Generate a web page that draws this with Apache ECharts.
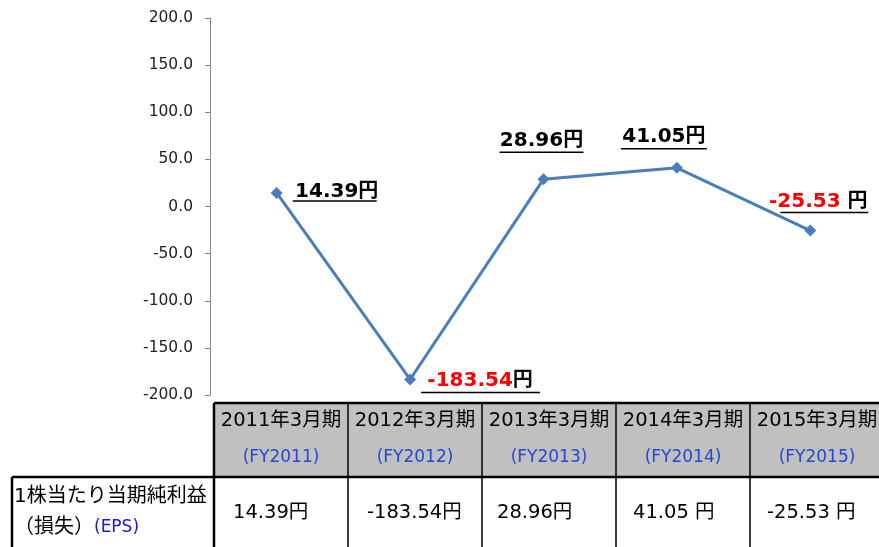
<!DOCTYPE html>
<html><head><meta charset="utf-8">
<script src="https://cdn.jsdelivr.net/npm/echarts@6/dist/echarts.min.js"></script>
<style>html,body{margin:0;padding:0;background:#fff}#c{width:879px;height:547px}</style>
</head><body><div id="c"></div>
<script>
// ---- data ----
const categories = ['2011年3月期', '2012年3月期', '2013年3月期', '2014年3月期', '2015年3月期'];
const fyLabels = ['(FY2011)', '(FY2012)', '(FY2013)', '(FY2014)', '(FY2015)'];
const epsValues = [14.39, -183.54, 28.96, 41.05, -25.53];
const tableValues = ['14.39円', '-183.54円', '28.96円', '41.05 円', '-25.53 円'];
const rowTitle1 = '1株当たり当期純利益';
const rowTitle2 = '（損失）';
const rowTitle3 = '(EPS)';
const unitText = '円';
const yMin = -200, yMax = 200, yStep = 50;

// ---- label layout (style, not data): offset of label centre from point, underline extents ----
const labelLayout = [
  { dx: 60, dy: -1, sep: '', ul: [16, 100, 8] },
  { dx: 70, dy: 1, sep: '', ul: [11, 130, 13] },
  { dx: -2, dy: -38, sep: '', ul: [-44, 40, -27] },
  { dx: -13, dy: -31, sep: '', ul: [-56, 30, -19] },
  { dx: 8, dy: -29, sep: ' ', ul: [-30, 58, -18] }
];
const cellTextShift = [19, 19, 15, 17, 17];

const FONT = '"DejaVu Sans", "Noto Sans CJK JP", sans-serif';
const chart = echarts.init(document.getElementById('c'), null, { renderer: 'canvas' });

const seriesData = epsValues.map((v, i) => {
  const L = labelLayout[i];
  const txt = v.toFixed(2);
  const neg = v < 0;
  return {
    value: v,
    label: {
      show: true,
      position: 'inside',
      offset: [L.dx, L.dy],
      align: 'center',
      verticalAlign: 'middle',
      formatter: (neg ? '{r|' + txt + '}' : '{k|' + txt + '}') + '{k|' + L.sep + unitText + '}',
      rich: {
        r: { color: '#FF0000', fontWeight: 'bold', fontSize: 20, fontFamily: FONT },
        k: { color: '#000000', fontWeight: 'bold', fontSize: 20, fontFamily: FONT }
      }
    }
  };
});

chart.setOption({
  animation: false,
  backgroundColor: '#ffffff',
  grid: { left: 210, right: 2, top: 18, bottom: 152, containLabel: false },
  xAxis: {
    type: 'category', data: categories, boundaryGap: true,
    axisLine: { show: false }, axisTick: { show: false }, axisLabel: { show: false }, splitLine: { show: false }
  },
  yAxis: {
    type: 'value', min: yMin, max: yMax, interval: yStep,
    axisLine: { show: true, lineStyle: { color: '#868686', width: 1 } },
    axisTick: { show: true, length: 5, lineStyle: { color: '#868686' } },
    axisLabel: { formatter: v => v.toFixed(1), fontSize: 15.5, color: '#222', fontFamily: FONT, margin: 17 },
    splitLine: { show: false }
  },
  series: [{
    type: 'line', data: seriesData,
    lineStyle: { color: '#4A7EBB', width: 3 },
    itemStyle: { color: '#4A7EBB' },
    symbol: 'diamond', symbolSize: 12,
    z: 3
  }]
});

// ---- graphics: underlines + data table ----
const g = [];
epsValues.forEach((v, i) => {
  const p = chart.convertToPixel({ seriesIndex: 0 }, [i, v]);
  const u = labelLayout[i].ul;
  g.push({ type: 'line', shape: { x1: p[0] + u[0], y1: p[1] + u[2], x2: p[0] + u[1], y2: p[1] + u[2] },
           style: { stroke: '#000', lineWidth: 1.5 }, z: 10 });
});

const tLeft = 214, colW = 134, hTop = 403, hBot = 477, tBot = 560, labL = 12;
g.push({ type: 'rect', shape: { x: tLeft, y: hTop, width: 900 - tLeft, height: hBot - hTop }, style: { fill: '#C0C0C0' }, z: 1 });
categories.forEach((c, i) => {
  const cx = tLeft + colW * (i + 0.5);
  g.push({ type: 'text', style: { text: c, x: cx, y: 421, align: 'center', verticalAlign: 'middle', font: '19.5px ' + FONT, fill: '#000' }, z: 5 });
  g.push({ type: 'text', style: { text: fyLabels[i], x: cx, y: 458, align: 'center', verticalAlign: 'middle', font: '17px ' + FONT, fill: '#2447D6' }, z: 5 });
  g.push({ type: 'text', style: { text: tableValues[i], x: tLeft + colW * i + cellTextShift[i], y: 513, align: 'left', verticalAlign: 'middle', font: '19.5px ' + FONT, fill: '#000' }, z: 5 });
  if (i > 0) {
    const x = tLeft + colW * i;
    g.push({ type: 'line', shape: { x1: x, y1: hTop, x2: x, y2: tBot }, style: { stroke: '#000', lineWidth: 1.5 }, z: 6 });
  }
});
g.push({ type: 'line', shape: { x1: tLeft, y1: hTop, x2: 900, y2: hTop }, style: { stroke: '#000', lineWidth: 2.5 }, z: 7 });
g.push({ type: 'line', shape: { x1: tLeft, y1: hTop, x2: tLeft, y2: tBot }, style: { stroke: '#000', lineWidth: 2.5 }, z: 7 });
g.push({ type: 'line', shape: { x1: labL, y1: hBot, x2: 900, y2: hBot }, style: { stroke: '#000', lineWidth: 2.5 }, z: 7 });
g.push({ type: 'line', shape: { x1: labL, y1: hBot, x2: labL, y2: tBot }, style: { stroke: '#000', lineWidth: 2.5 }, z: 7 });
g.push({ type: 'text', style: { text: rowTitle1, x: 14, y: 497, align: 'left', verticalAlign: 'middle', font: '20px ' + FONT, fill: '#000' }, z: 5 });
g.push({ type: 'text', style: {
  text: '{a|' + rowTitle2 + '}{b|' + rowTitle3 + '}', x: 14, y: 528, align: 'left', verticalAlign: 'middle',
  rich: { a: { font: '20px ' + FONT, fill: '#000', color: '#000' }, b: { font: '17px ' + FONT, fill: '#1515F0', color: '#1515F0' } }
}, z: 5 });

chart.setOption({ graphic: g });
</script>
</body></html>
